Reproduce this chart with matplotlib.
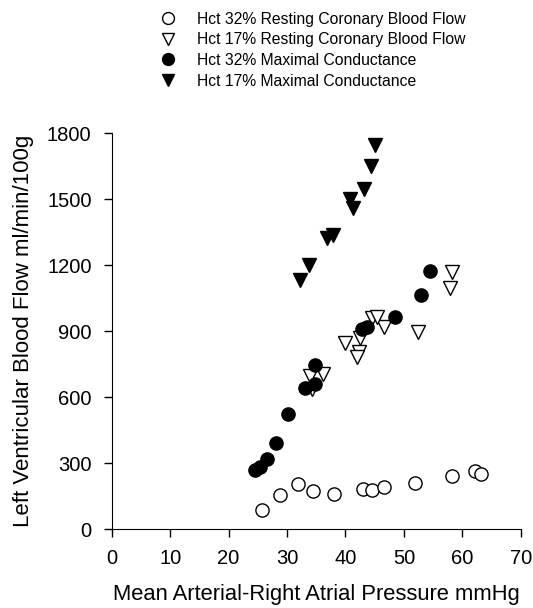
import matplotlib
matplotlib.use("Agg")
import matplotlib.pyplot as plt

plt.rcParams['font.family'] = ['Liberation Sans', 'DejaVu Sans']

# Hct 32% resting coronary blood flow
rest32_x = [25.7, 28.8, 31.9, 34.5, 38.1, 43.0, 44.5, 46.6, 51.9, 58.3, 62.2, 63.2]
rest32_y = [88, 157, 207, 172, 159, 182, 180, 191, 210, 241, 266, 253]

# Hct 17% resting coronary blood flow
rest17_x = [58.3, 57.9, 52.5, 46.6, 44.5, 45.4, 42.5, 40.0, 42.3, 42.0, 36.1, 33.9, 34.3]
rest17_y = [1171, 1095, 898, 918, 959, 964, 868, 848, 805, 782, 706, 697, 636]

# Hct 32% maximal conductance
max32_x = [24.5, 25.3, 26.5, 28.1, 30.2, 33.0, 34.8, 34.8, 42.8, 43.7, 48.4, 53.0, 54.5]
max32_y = [270, 282, 320, 391, 524, 644, 660, 747, 910, 918, 966, 1065, 1176]

# Hct 17% maximal conductance
max17_x = [45.1, 44.4, 43.2, 40.8, 41.3, 37.8, 36.9, 33.8, 32.2]
max17_y = [1747, 1651, 1545, 1501, 1459, 1338, 1325, 1201, 1133]

labels = ["Hct 32% Resting Coronary Blood Flow",
          "Hct 17% Resting Coronary Blood Flow",
          "Hct 32% Maximal Conductance",
          "Hct 17% Maximal Conductance"]

xticks = [0, 10, 20, 30, 40, 50, 60, 70]
yticks = [0, 300, 600, 900, 1200, 1500, 1800]

fig = plt.figure(figsize=(5.33, 6.08), dpi=100)
ax = fig.add_axes([0.2096, 0.1294, 0.7674, 0.6513])

ms = 9.5
h1, = ax.plot(rest32_x, rest32_y, 'o', ms=ms, mfc='white', mec='black', mew=1.0, ls='none')
h2, = ax.plot(rest17_x, rest17_y, 'v', ms=ms + 0.5, mfc='white', mec='black', mew=1.0, ls='none')
h3, = ax.plot(max32_x, max32_y, 'o', ms=ms, mfc='black', mec='black', ls='none')
h4, = ax.plot(max17_x, max17_y, 'v', ms=ms + 0.5, mfc='black', mec='black', ls='none')

ax.set_xlim(0, 70)
ax.set_ylim(0, 1800)
ax.set_xticks(xticks)
ax.set_yticks(yticks)
ax.spines['top'].set_visible(False)
ax.spines['right'].set_visible(False)
ax.tick_params(direction='out', length=6, width=1, labelsize=14.5, pad=8.5)
ax.set_xlabel("Mean Arterial-Right Atrial Pressure mmHg", fontsize=15.8)
ax.set_ylabel("Left Ventricular Blood Flow ml/min/100g", fontsize=16)
ax.xaxis.set_label_coords(0.5, -0.138)
ax.yaxis.set_label_coords(-0.19, 0.5)

fig.legend([h1, h2, h3, h4], labels, loc='upper left', bbox_to_anchor=(0.300, 0.981),
           frameon=False, fontsize=11.3, markerscale=0.9, handlelength=1.0,
           handletextpad=1.35, labelspacing=0.36, borderpad=0, borderaxespad=0)

fig.savefig("out.png", dpi=100)
